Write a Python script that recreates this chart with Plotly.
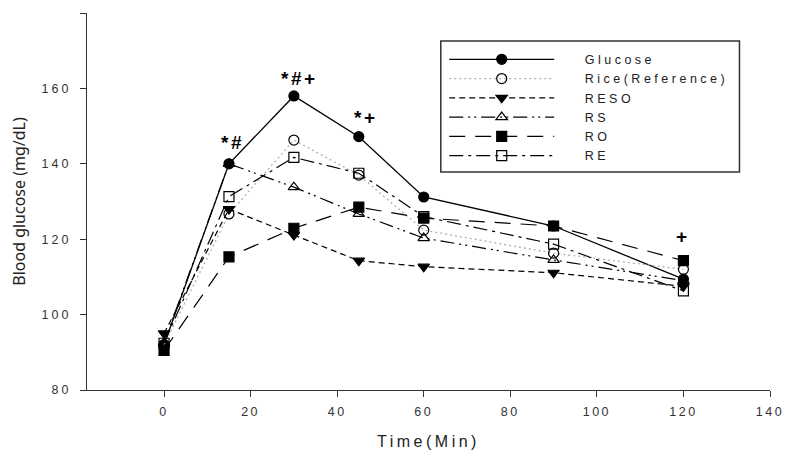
import plotly.graph_objects as go

time_min = [0, 15, 30, 45, 60, 90, 120]
series_names = ["Glucose", "Rice(Reference)", "RESO", "RS", "RO", "RE"]
glucose = [92, 140, 158, 147.2, 131.2, 123.5, 109.4]
rice = [92, 126.7, 146.3, 137, 122.4, 116.3, 112]
reso = [95, 128, 121.1, 114.3, 112.7, 111.1, 107.5]
rs = [92.5, 140, 133.8, 126.7, 120.3, 114.5, 109]
ro = [90.5, 115.3, 122.9, 128.5, 125.6, 123.5, 114.3]
re = [92.4, 131.3, 141.7, 137.5, 126, 118.7, 106.3]

x_ticks = [0, 20, 40, 60, 80, 100, 120, 140]
y_ticks = [80, 100, 120, 140, 160, 180]

sig_labels = ["*#", "*#+", "*+", "+"]
sig_x = [15.8, 31.4, 46.6, 119.9]
sig_y = [145.6, 162.6, 152.4, 120.6]


def spaced(s, px):
    return '<span style="letter-spacing:%spx">%s</span>' % (px, s)


values = [glucose, rice, reso, rs, ro, re]
styles = [
    dict(symbol="circle", dash="solid", lcolor="black", lw=1.3),
    dict(symbol="circle-open", dash="2px,3px", lcolor="#b0b0b0", lw=1.3),
    dict(symbol="triangle-down", dash="6px,4px", lcolor="black", lw=1.2),
    dict(symbol="triangle-up-open", dash="14px,5px,2px,4px,2px,5px", lcolor="black", lw=1.2),
    dict(symbol="square", dash="16px,10px", lcolor="black", lw=1.2),
    dict(symbol="square-open", dash="14px,5px,3px,5px", lcolor="black", lw=1.2),
]

fig = go.Figure()
for name, vals, st in zip(series_names, values, styles):
    fig.add_trace(go.Scatter(
        x=time_min, y=vals, mode="lines+markers",
        name='<span style="letter-spacing:22px">&nbsp;</span>' + spaced(name, 3.5),
        line=dict(color=st["lcolor"], width=st["lw"], dash=st["dash"]),
        marker=dict(symbol=st["symbol"], size=10, color="black",
                    line=dict(color="black", width=1.2)),
    ))

for lab, xx, yy in zip(sig_labels, sig_x, sig_y):
    fig.add_annotation(x=xx, y=yy, text="<b>" + spaced(lab, 2.5) + "</b>", showarrow=False,
                       font=dict(family="Liberation Sans, Arial", size=19, color="black"))

# legend frame (paper coordinates)
fig.add_shape(type="rect", xref="paper", yref="paper",
              x0=0.518, x1=0.9553, y0=0.578, y1=0.926,
              line=dict(color="#333", width=1.5), fillcolor="rgba(0,0,0,0)", layer="above")

# page body has an 8px margin: figure is sized to fit the 790x456 window
fig.update_layout(
    width=782, height=448,
    margin=dict(l=79, r=20, t=5, b=66),
    paper_bgcolor="white", plot_bgcolor="white",
    font=dict(family="Liberation Sans, Arial", color="#222"),
    showlegend=True,
    legend=dict(
        x=0.523, y=0.916, xanchor="left", yanchor="top",
        borderwidth=0, bgcolor="white",
        font=dict(family="Liberation Sans, Arial", size=12.5, color="#222"),
        itemwidth=105, tracegroupgap=0,
    ),
)
fig.update_xaxes(
    range=[-17.8, 140], tickmode="array", tickvals=x_ticks,
    ticktext=[spaced(str(v), 2.5) for v in x_ticks],
    showline=True, linecolor="#333", linewidth=1.2, ticks="outside", ticklen=6,
    tickcolor="#333", showgrid=False, zeroline=False, automargin=False,
    tickfont=dict(size=12.5, color="#333"), ticklabelstandoff=4,
    title=dict(text=spaced("Time(Min)", 3.5), font=dict(family="Liberation Sans, Arial", size=16, color="#222"), standoff=17),
)
fig.update_yaxes(
    range=[80, 180], tickmode="array", tickvals=y_ticks,
    ticktext=[spaced(str(v), 3) for v in y_ticks],
    showline=True, linecolor="#333", linewidth=1.2, ticks="outside", ticklen=6,
    tickcolor="#333", showgrid=False, zeroline=False, automargin=False,
    tickfont=dict(size=12.5, color="#333"), ticklabelstandoff=6,
    title=dict(text="Blood glucose (mg/dL)", font=dict(family="Noto Sans", size=16, color="#222"), standoff=14),
)

fig.write_html("out.html")
